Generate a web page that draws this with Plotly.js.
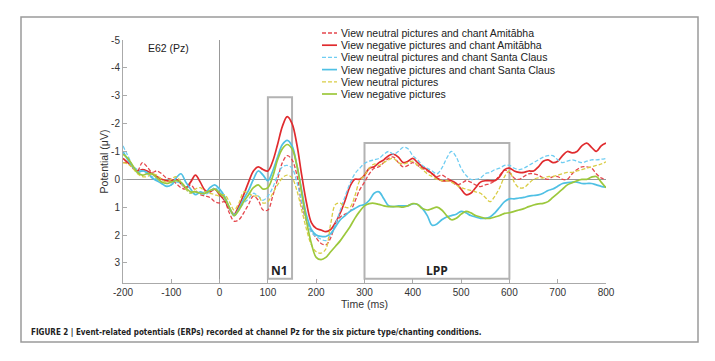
<!DOCTYPE html>
<html>
<head>
<meta charset="utf-8">
<script src="https://cdn.plot.ly/plotly-3.0.1.min.js"></script>
<style>html,body{margin:0;padding:0;background:#fff;}#chart{width:715px;height:361px;}</style>
</head>
<body>
<div id="chart"></div>
<script>
// ---- data ----
const timeMs = [-200,-190,-180,-170,-160,-150,-140,-130,-120,-110,-100,-90,-80,-70,-60,-50,-40,-30,-20,-10,
  0,10,20,30,40,50,60,70,80,90,100,110,120,130,140,150,160,170,180,190,200,210,220,230,240,250,260,270,280,290,
  300,310,320,330,340,350,360,370,380,390,400,410,420,430,440,450,460,470,480,490,500,510,520,530,540,550,560,570,580,590,
  600,610,620,630,640,650,660,670,680,690,700,710,720,730,740,750,760,770,780,790,800];

const seriesNames = [
  "View neutral pictures and chant Amitābha",
  "View negative pictures and chant Amitābha",
  "View neutral pictures and chant Santa Claus",
  "View negative pictures and chant Santa Claus",
  "View neutral pictures",
  "View negative pictures"
];

const neutralAmitabha = [-0.6,-0.6,-0.4,-0.3,-0.6,-0.45,-0.25,-0.3,-0.2,-0.05,0.0,0.15,0.3,0.35,0.2,0.4,0.55,0.6,0.65,0.8,
  0.85,0.8,1.2,1.5,1.45,1.2,0.9,0.6,0.75,1.1,1.1,0.6,0.0,-0.6,-0.85,-0.7,-0.15,0.9,1.5,1.85,2.1,2.3,2.35,2.1,1.6,1.35,1.25,1.15,0.8,0.38,
  0.1,-0.2,-0.4,-0.45,-0.6,-0.75,-0.8,-0.6,-0.45,-0.5,-0.6,-0.5,-0.4,-0.3,-0.2,-0.1,-0.15,-0.05,0.05,0.2,0.15,0.05,0.1,0.2,0.26,0.2,0.15,0.05,-0.15,-0.33,
  -0.25,-0.05,0.0,-0.1,-0.2,-0.2,-0.15,-0.05,0.0,-0.1,-0.1,0.0,0.0,-0.2,-0.35,-0.45,-0.45,-0.4,-0.2,-0.05,0.0];

const negativeAmitabha = [-0.75,-0.6,-0.45,-0.3,-0.35,-0.3,-0.2,-0.1,0.0,0.05,0.05,0.0,0.15,0.3,0.1,-0.15,0.1,0.4,0.45,0.35,
  0.55,0.75,1.05,1.25,0.95,0.55,0.1,-0.3,-0.45,-0.35,-0.3,-0.65,-1.25,-1.9,-2.25,-2.0,-1.25,-0.15,0.85,1.55,1.76,1.82,1.88,1.8,1.55,1.2,0.75,0.25,0.0,0.0,
  -0.15,-0.4,-0.45,-0.6,-0.7,-0.85,-0.9,-0.8,-0.6,-0.65,-0.75,-0.6,-0.45,-0.35,-0.2,-0.05,0.05,0.05,0.05,0.15,0.35,0.55,0.5,0.3,0.1,0.05,0.05,0.05,-0.1,-0.35,
  -0.4,-0.3,-0.25,-0.25,-0.3,-0.3,-0.45,-0.65,-0.7,-0.6,-0.65,-0.85,-1.0,-0.95,-1.0,-1.2,-1.3,-1.15,-1.0,-1.2,-1.3];

const neutralSanta = [-1.2,-0.85,-0.5,-0.35,-0.3,-0.2,-0.1,0.0,0.15,0.25,0.2,0.1,0.15,0.35,0.5,0.45,0.5,0.55,0.45,0.3,
  0.45,0.7,1.0,1.25,1.1,0.85,0.7,0.5,0.6,0.75,0.6,0.3,-0.15,-0.45,-0.5,-0.4,0.1,0.8,1.5,1.9,2.05,2.15,2.2,2.0,1.6,1.1,0.6,0.15,-0.2,-0.4,
  -0.57,-0.65,-0.7,-0.75,-0.9,-1.0,-0.9,-1.0,-1.15,-1.1,-0.85,-0.7,-0.5,-0.4,-0.3,-0.2,-0.4,-0.75,-1.0,-0.8,-0.4,-0.15,0.0,0.0,-0.05,-0.2,-0.25,-0.35,-0.4,-0.5,
  -0.5,-0.4,-0.35,-0.4,-0.5,-0.6,-0.7,-0.8,-0.85,-0.85,-0.7,-0.6,-0.65,-0.7,-0.65,-0.6,-0.65,-0.7,-0.7,-0.72,-0.75];

const negativeSanta = [-1.0,-0.7,-0.45,-0.25,-0.3,-0.25,-0.05,0.05,0.15,0.25,0.2,-0.05,-0.2,0.1,0.35,0.55,0.45,0.5,0.3,0.2,
  0.35,0.6,1.0,1.3,1.05,0.7,0.4,0.0,-0.3,-0.15,0.05,-0.3,-0.8,-1.25,-1.4,-1.2,-0.5,0.4,1.3,1.8,2.0,2.05,2.05,1.95,1.7,1.45,1.3,1.15,1.05,0.95,
  0.9,0.75,0.5,0.45,0.7,0.95,0.98,0.95,0.95,0.95,0.88,0.9,1.05,1.3,1.65,1.6,1.45,1.35,1.3,1.25,1.15,1.2,1.3,1.35,1.4,1.4,1.35,1.2,1.0,0.8,
  0.7,0.7,0.67,0.65,0.6,0.58,0.56,0.5,0.4,0.35,0.25,0.15,0.12,0.1,0.1,0.15,0.15,0.15,0.2,0.25,0.28];

const neutralPictures = [-0.6,-0.55,-0.4,-0.2,-0.1,-0.1,-0.2,-0.15,0.0,0.1,0.0,-0.1,0.1,0.35,0.5,0.35,0.3,0.45,0.5,0.55,
  0.6,0.55,0.8,1.1,0.85,0.45,0.5,0.6,0.6,0.85,0.8,0.5,0.2,-0.05,-0.15,-0.05,0.4,1.1,1.8,2.35,2.6,2.65,2.5,1.6,0.9,0.85,1.0,1.0,0.6,0.05,
  -0.15,-0.4,-0.55,-0.5,-0.6,-0.7,-0.75,-0.6,-0.55,-0.6,-0.65,-0.5,-0.35,-0.2,-0.1,0.0,0.05,0.05,0.1,0.2,0.3,0.35,0.4,0.45,0.5,0.65,0.8,0.6,0.3,-0.1,
  -0.3,0.1,0.3,0.3,0.15,0.0,-0.05,-0.05,-0.1,-0.1,-0.15,-0.2,-0.25,-0.25,-0.3,-0.35,-0.4,-0.45,-0.5,-0.55,-0.63];

const negativePictures = [-0.9,-0.75,-0.5,-0.25,-0.15,-0.2,-0.2,-0.05,0.1,0.15,0.1,0.05,0.1,0.3,0.45,0.45,0.5,0.5,0.4,0.35,
  0.5,0.65,1.0,1.3,1.1,0.8,0.55,0.3,0.2,0.35,0.3,-0.1,-0.7,-1.1,-1.25,-1.1,-0.5,0.5,1.5,2.3,2.8,2.88,2.8,2.6,2.4,2.2,1.95,1.7,1.4,1.15,
  0.95,0.87,0.86,0.9,0.95,0.98,0.98,0.98,1.0,0.95,0.87,0.9,1.05,1.1,1.05,1.0,1.1,1.3,1.45,1.4,1.25,1.15,1.2,1.3,1.35,1.4,1.4,1.35,1.3,1.22,
  1.2,1.15,1.1,1.05,0.98,0.92,0.88,0.86,0.8,0.65,0.5,0.35,0.2,0.12,0.05,0.0,0.0,-0.08,-0.1,0.1,0.3];

const xTickVals = [-200,-100,0,100,200,300,400,500,600,700,800];
const xTickText = ["-200","-100","0","100","200","300","400","500","600","700","800"];
const yTickVals = [-5,-4,-3,-2,-1,0,1,2,3];
const yTickText = ["-5","-4","-3","-2","-1","0","1","2","3"];

const windows = [
  {label: "N1", start: 100, end: 150, top: -2.95},
  {label: "LPP", start: 300, end: 600, top: -1.3}
];

// ---- styles ----
const values = [neutralAmitabha, negativeAmitabha, neutralSanta, negativeSanta, neutralPictures, negativePictures];
const colors = ["#e5474d", "#e02b2e", "#6fcdf2", "#4fc0e4", "#d9cd45", "#9cc83c"];
const dashes = ["4px,2px", "solid", "4px,2px", "solid", "4px,2px", "solid"];
const widths = [1.3, 1.7, 1.3, 1.7, 1.3, 1.7];

const W = 715, H = 361, L = 123, R = 606, T = 40, B = 283;
const pxX = p => (p - L) / (R - L);
const pxY = p => (B - p) / (B - T);
const font = "Liberation Sans, Arial, sans-serif";

const traces = values.map((v, i) => ({
  type: "scatter", mode: "lines", x: timeMs, y: v, name: seriesNames[i],
  line: {color: colors[i], width: widths[i], dash: dashes[i], shape: "spline", smoothing: 1},
  showlegend: false, hoverinfo: "skip"
}));

const shapes = [];
const annotations = [];

windows.forEach(w => {
  shapes.push({type: "rect", xref: "x", yref: "y", x0: w.start, x1: w.end, y0: w.top, y1: 3.57,
    line: {color: "#b3b3b3", width: 2}, fillcolor: "rgba(0,0,0,0)", layer: "below"});
  annotations.push({xref: "x", yref: "y", x: (w.start + w.end) / 2, y: 3.27,
    text: "<b>" + w.label + "</b>", showarrow: false,
    font: {family: "Open Sans, sans-serif", size: 12, color: "#222"}});
});

// outer figure frame
shapes.push({type: "rect", xref: "paper", yref: "paper", x0: pxX(21), x1: pxX(698), y0: pxY(342), y1: pxY(17),
  line: {color: "#9a9a9a", width: 1.5}, fillcolor: "rgba(0,0,0,0)", layer: "below"});

// manual legend
const rowY = [33, 45.2, 57.4, 69.6, 81.8, 94];
seriesNames.forEach((n, i) => {
  shapes.push({type: "line", xref: "paper", yref: "paper", x0: pxX(322), x1: pxX(337), y0: pxY(rowY[i]), y1: pxY(rowY[i]),
    line: {color: colors[i], width: widths[i], dash: dashes[i]}});
  annotations.push({xref: "paper", yref: "paper", x: pxX(339), y: pxY(rowY[i]), xanchor: "left", yanchor: "middle",
    text: n, showarrow: false, font: {family: font, size: 10.5, color: "#222"}});
});

annotations.push({xref: "x", yref: "y", x: -105, y: -4.71, text: "E62 (Pz)", showarrow: false,
  font: {family: font, size: 10.5, color: "#222"}});

annotations.push({xref: "paper", yref: "paper", x: pxX(29), y: pxY(332), xanchor: "left", yanchor: "middle",
  text: "<b>FIGURE 2 | Event-related potentials (ERPs) recorded at channel Pz for the six picture type/chanting conditions.</b>",
  showarrow: false, font: {family: "Liberation Sans Narrow, Arial Narrow, DejaVu Sans Condensed, sans-serif", size: 8, color: "#222"}});

const layout = {
  width: W, height: H,
  margin: {l: L, r: W - R, t: T, b: H - B, pad: 0},
  paper_bgcolor: "#fff", plot_bgcolor: "rgba(0,0,0,0)",
  showlegend: false,
  font: {family: font, size: 10, color: "#333"},
  xaxis: {
    range: [-200, 800], tickmode: "array", tickvals: xTickVals, ticktext: xTickText,
    ticks: "inside", ticklen: 4, tickcolor: "#aaa", showline: true, linecolor: "#aaa", linewidth: 1,
    showgrid: false, zeroline: true, zerolinecolor: "#999", zerolinewidth: 1,
    tickfont: {family: font, size: 10, color: "#333"},
    title: {text: "Time (ms)", font: {family: font, size: 10.5, color: "#333"}, standoff: 0},
    automargin: false, fixedrange: true
  },
  yaxis: {
    range: [3.72, -5.0], tickmode: "array", tickvals: yTickVals, ticktext: yTickText,
    ticks: "inside", ticklen: 4, tickcolor: "#aaa", showline: true, linecolor: "#aaa", linewidth: 1,
    showgrid: false, zeroline: true, zerolinecolor: "#999", zerolinewidth: 1,
    tickfont: {family: font, size: 10, color: "#333"},
    title: {text: "Potential (μV)", font: {family: font, size: 10.5, color: "#333"}, standoff: 0},
    automargin: false, fixedrange: true
  },
  shapes: shapes,
  annotations: annotations
};

Plotly.newPlot("chart", traces, layout, {displayModeBar: false, staticPlot: true});
</script>
</body>
</html>
